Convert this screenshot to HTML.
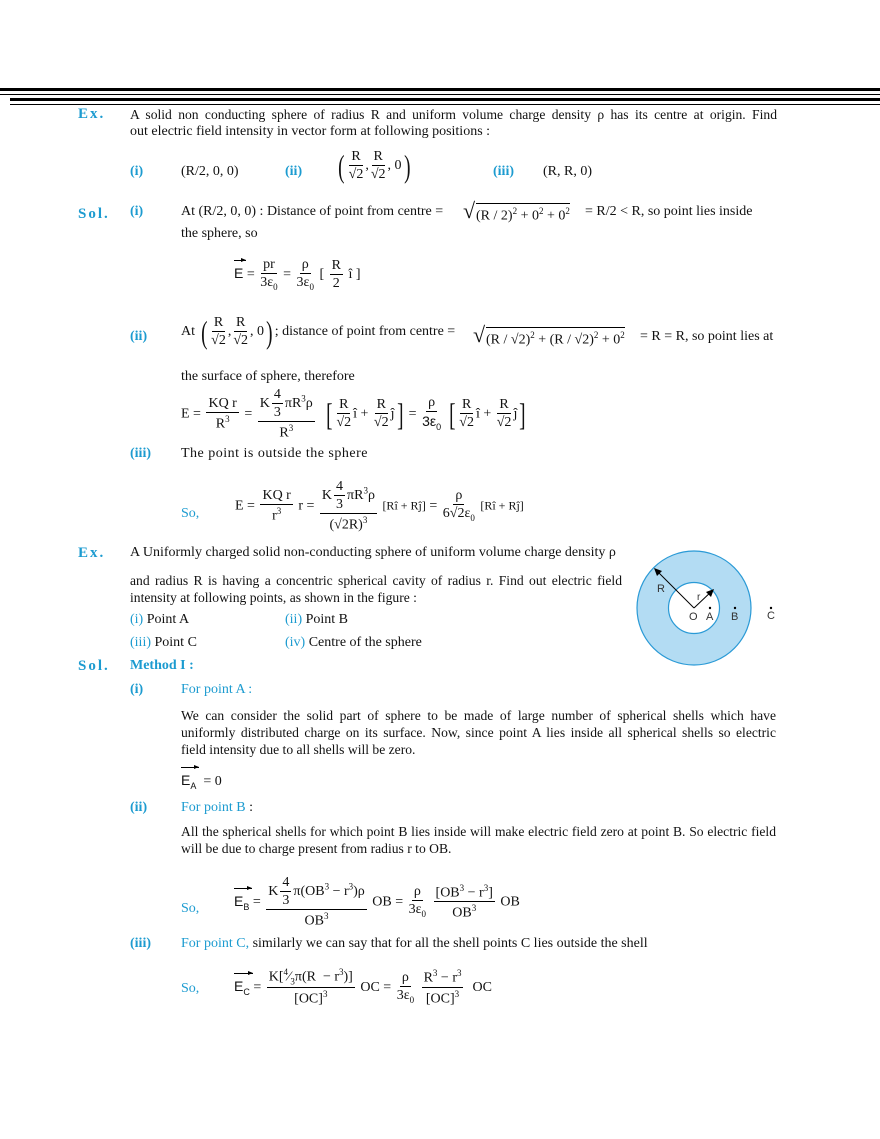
<!DOCTYPE html>
<html><head><meta charset="utf-8">
<style>
body{margin:0;width:880px;height:1139px;background:#fff;position:relative;font-family:"Liberation Serif",serif;font-size:14px;color:#111;overflow:hidden}
.a{position:absolute;white-space:nowrap;line-height:1}
.b{color:#1c9bd0}
.bb{color:#1c9bd0;font-weight:bold}
.ex{color:#1c9bd0;font-weight:bold;font-size:15px;letter-spacing:2px}
.hr{position:absolute;background:#000}
.fr{display:inline-flex;flex-direction:column;align-items:center;vertical-align:middle;margin:0 2px}
.fr>span:first-child{border-bottom:1px solid #000;padding:0 2px 1px}
.fr>span:last-child{padding-top:2px}
.big{font-size:32px;vertical-align:middle;font-weight:100;transform:scaleX(.6);display:inline-block}
.sans{font-family:"Liberation Sans",sans-serif}
.vec{position:relative;display:inline-block;font-family:"Liberation Sans",sans-serif}
.vec i{position:absolute;left:0;right:-3px;top:-6px;border-top:1px solid #000;font-style:normal}
.vec i:after{content:"";position:absolute;right:0;top:-3px;border-left:5px solid #000;border-top:2.5px solid transparent;border-bottom:2.5px solid transparent}
sup{font-size:9px}
sub{font-size:9px}
.L{position:absolute;white-space:nowrap;line-height:1;text-align:justify;text-align-last:justify;font-size:13.6px}
</style></head><body>
<div class="hr" style="left:0;top:88px;width:880px;height:3px"></div>
<div class="hr" style="left:0;top:94px;width:880px;height:1px"></div>
<div class="hr" style="left:10px;top:98px;width:870px;height:3px"></div>
<div class="hr" style="left:10px;top:104px;width:870px;height:1px"></div>

<div class="a ex" style="left:78px;top:107px">Ex.</div>
<div class="L" style="left:130px;top:108px;width:647px">A solid non conducting sphere of radius R and uniform volume charge density ρ has its centre at origin. Find</div>
<div class="a" style="left:130px;top:125px">out electric field intensity in vector form at following positions :</div>

<div class="a bb" style="left:130px;top:165px">(i)</div>
<div class="a" style="left:181px;top:165px">(R/2, 0, 0)</div>
<div class="a bb" style="left:285px;top:165px">(ii)</div>
<div class="a" style="left:336px;top:150px"><span class="big">(</span><span class="fr"><span>R</span><span>√2</span></span>,<span class="fr"><span>R</span><span>√2</span></span>, 0<span class="big">)</span></div>
<div class="a bb" style="left:493px;top:165px">(iii)</div>
<div class="a" style="left:543px;top:165px">(R, R, 0)</div>

<div class="a ex" style="left:78px;top:207px">Sol.</div>
<div class="a bb" style="left:130px;top:205px">(i)</div>
<div class="a" style="left:181px;top:205px">At (R/2, 0, 0) : Distance of point from centre =</div>
<div class="a" style="left:463px;top:200px;font-size:22px">√</div>
<div class="a" style="left:476px;top:203px;border-top:1px solid #000;padding-top:3px">(R / 2)<sup>2</sup> + 0<sup>2</sup> + 0<sup>2</sup></div>
<div class="a" style="left:585px;top:205px">= R/2 &lt; R, so point lies inside</div>
<div class="a" style="left:181px;top:227px">the sphere, so</div>

<div class="a" style="left:234px;top:258px"><span class="vec">E<i></i></span> = <span class="fr"><span>pr</span><span>3ε<sub>0</sub></span></span> = <span class="fr"><span>ρ</span><span>3ε<sub>0</sub></span></span> [ <span class="fr"><span>R</span><span>2</span></span> î ]</div>

<div class="a bb" style="left:130px;top:330px">(ii)</div>
<div class="a" style="left:181px;top:316px">At <span class="big">(</span><span class="fr"><span>R</span><span>√2</span></span>,<span class="fr"><span>R</span><span>√2</span></span>, 0<span class="big">)</span>; distance of point from centre =</div>
<div class="a" style="left:473px;top:324px;font-size:22px">√</div>
<div class="a" style="left:486px;top:327px;border-top:1px solid #000;padding-top:3px">(R / √2)<sup>2</sup> + (R / √2)<sup>2</sup> + 0<sup>2</sup></div>
<div class="a" style="left:640px;top:330px">= R = R, so point lies at</div>
<div class="a" style="left:181px;top:370px">the surface of sphere, therefore</div>

<div class="a" style="left:181px;top:388px">E = <span class="fr"><span>KQ r</span><span>R<sup>3</sup></span></span> = <span class="fr"><span>K<span class="fr"><span>4</span><span>3</span></span>πR<sup>3</sup>ρ</span><span>R<sup>3</sup></span></span> &nbsp;<span class="big">[</span><span class="fr"><span>R</span><span>√2</span></span>î + <span class="fr"><span>R</span><span>√2</span></span>ĵ<span class="big">]</span> = <span class="fr"><span>ρ</span><span class="sans">3ε<sub>0</sub></span></span> <span class="big">[</span><span class="fr"><span>R</span><span>√2</span></span>î + <span class="fr"><span>R</span><span>√2</span></span>ĵ<span class="big">]</span></div>

<div class="a bb" style="left:130px;top:447px">(iii)</div>
<div class="a" style="left:181px;top:447px;letter-spacing:.5px">The point is outside the sphere</div>

<div class="a b" style="left:181px;top:507px">So,</div>
<div class="a" style="left:235px;top:480px">E = <span class="fr"><span>KQ r</span><span>r<sup>3</sup></span></span> r = <span class="fr"><span>K<span class="fr"><span>4</span><span>3</span></span>πR<sup>3</sup>ρ</span><span>(√2R)<sup>3</sup></span></span> <span style="font-size:12px">[Rî + Rĵ]</span> = <span class="fr"><span>ρ</span><span>6√2ε<sub>0</sub></span></span> <span style="font-size:12px">[Rî + Rĵ]</span></div>

<div class="a ex" style="left:78px;top:546px">Ex.</div>
<div class="a" style="left:130px;top:546px">A Uniformly charged solid non-conducting sphere of uniform volume charge density ρ</div>
<div class="L" style="left:130px;top:574px;width:492px">and radius R is having a concentric spherical cavity of radius r. Find out electric field</div>
<div class="a" style="left:130px;top:591px;font-size:13.6px">intensity at following points, as shown in the figure :</div>
<div class="a" style="left:130px;top:613px"><span class="b">(i)</span> Point A</div>
<div class="a" style="left:285px;top:613px"><span class="b">(ii)</span> Point B</div>
<div class="a" style="left:130px;top:636px"><span class="b">(iii)</span> Point C</div>
<div class="a" style="left:285px;top:636px"><span class="b">(iv)</span> Centre of the sphere</div>

<svg class="a" style="left:620px;top:540px" width="260" height="140" viewBox="620 540 260 140">
<circle cx="694" cy="608" r="57" fill="#b3dcf3" stroke="#2a9ad6" stroke-width="1.2"/>
<circle cx="694" cy="608" r="25.5" fill="#fff" stroke="#2a9ad6" stroke-width="1.2"/>
<line x1="694" y1="608" x2="655" y2="569" stroke="#000" stroke-width="1"/>
<polygon points="654,568 662,571 657,576" fill="#000"/>
<line x1="694" y1="608" x2="713" y2="590" stroke="#000" stroke-width="1"/>
<polygon points="714,589 711,597 706,592" fill="#000"/>
<g font-family="Liberation Sans,sans-serif" font-size="11" fill="#333">
<text x="657" y="592">R</text><text x="697" y="600" font-size="10">r</text>
<text x="689" y="620">O</text><text x="706" y="620">A</text><text x="731" y="620">B</text><text x="767" y="619">C</text>
</g>
<circle cx="710" cy="608" r="1.2" fill="#000"/><circle cx="735" cy="608" r="1.2" fill="#000"/><circle cx="771" cy="608" r="1.2" fill="#000"/>
</svg>

<div class="a ex" style="left:78px;top:659px">Sol.</div>
<div class="a bb" style="left:130px;top:659px">Method I :</div>
<div class="a bb" style="left:130px;top:683px">(i)</div>
<div class="a b" style="left:181px;top:683px">For point A :</div>
<div class="L" style="left:181px;top:709px;width:595px">We can consider the solid part of sphere to be made of large number of spherical shells which have</div>
<div class="L" style="left:181px;top:726px;width:595px">uniformly distributed charge on its surface. Now, since point A lies inside all spherical shells so electric</div>
<div class="a" style="left:181px;top:743px;font-size:13.6px">field intensity due to all shells will be zero.</div>
<div class="a" style="left:181px;top:773px"><span class="vec">E<sub>A</sub><i></i></span> &nbsp;= 0</div>

<div class="a bb" style="left:130px;top:801px">(ii)</div>
<div class="a" style="left:181px;top:801px"><span class="b">For point B</span> :</div>
<div class="L" style="left:181px;top:825px;width:595px">All the spherical shells for which point B lies inside will make electric field zero at point B. So electric field</div>
<div class="a" style="left:181px;top:842px;font-size:13.6px">will be due to charge present from radius r to OB.</div>

<div class="a b" style="left:181px;top:902px">So,</div>
<div class="a" style="left:234px;top:876px"><span class="vec">E<sub>B</sub><i></i></span> = <span class="fr"><span>K<span class="fr"><span>4</span><span>3</span></span>π(OB<sup>3</sup> − r<sup>3</sup>)ρ</span><span>OB<sup>3</sup></span></span> OB = <span class="fr"><span>ρ</span><span>3ε<sub>0</sub></span></span> <span class="fr"><span>[OB<sup>3</sup> − r<sup>3</sup>]</span><span>OB<sup>3</sup></span></span> OB</div>

<div class="a bb" style="left:130px;top:937px">(iii)</div>
<div class="a" style="left:181px;top:937px"><span class="b">For point C,</span> similarly we can say that for all the shell points C lies outside the shell</div>

<div class="a b" style="left:181px;top:982px">So,</div>
<div class="a" style="left:234px;top:968px"><span class="vec">E<sub>C</sub><i></i></span> = <span class="fr"><span>K[<sup>4</sup>⁄<sub>3</sub>π(R &nbsp;− r<sup>3</sup>)]</span><span>[OC]<sup>3</sup></span></span> OC = <span class="fr"><span>ρ</span><span>3ε<sub>0</sub></span></span> <span class="fr"><span>R<sup>3</sup> − r<sup>3</sup></span><span>[OC]<sup>3</sup></span></span> &nbsp;OC</div>
</body></html>
